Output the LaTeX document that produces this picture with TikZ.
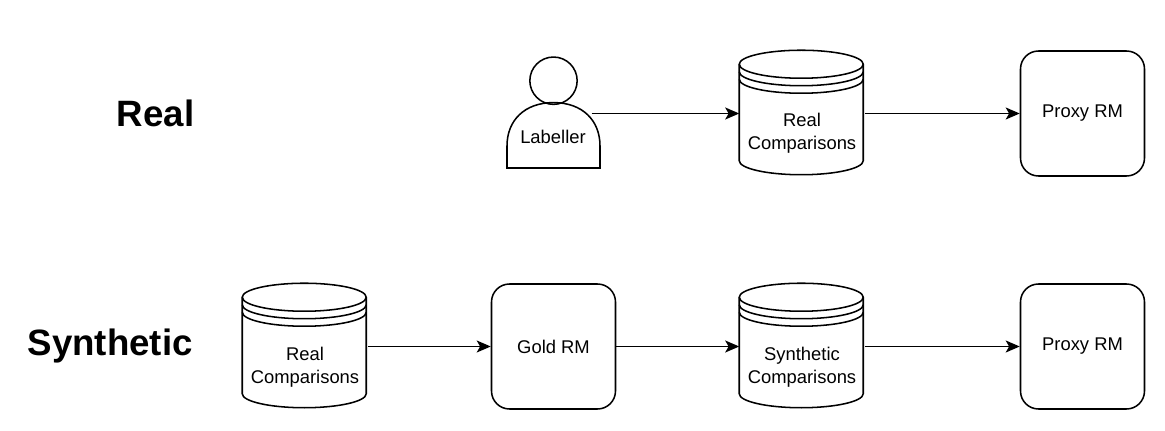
\documentclass[tikz,border=0pt]{standalone}
\usepackage{fontspec}
\setmainfont{Liberation Sans}
\usetikzlibrary{arrows.meta}

\tikzset{every picture/.style={line width=1.15pt}}
\tikzset{
	rmbox/.style={draw, rectangle, rounded corners=13.5pt, minimum width=93pt, minimum height=93.75pt, inner sep=0pt, font=\fontsize{13.8}{17}\selectfont},
	storebox/.style={rectangle, minimum width=93pt, minimum height=93.75pt, inner sep=0pt},
	storetext/.style={align=center, inner sep=0pt, font=\fontsize{13.8}{17}\selectfont},
	rowtitle/.style={anchor=east, inner sep=0pt, font=\fontsize{27.5}{30}\selectfont\bfseries},
	flow/.style={-{Stealth[length=10.5pt,width=9pt,inset=2.5pt]}}
}

% cylinder with its two rims, drawn round a named empty node
\newcommand{\drawstore}[1]{
	\draw (#1.north west) ++(0,14) arc [start angle=180, end angle=360, x radius=62, y radius=14] -- ++(0,96.5) arc [start angle=0, end angle=180, x radius=62, y radius=14] -- cycle;
	\draw (#1.north west) ++(0,14) arc [start angle=180, end angle=0, x radius=62, y radius=14];
	\draw (#1.north west) ++(0,21.5) arc [start angle=180, end angle=0, x radius=62, y radius=14];
	\draw (#1.north west) ++(0,29) arc [start angle=180, end angle=0, x radius=62, y radius=14];
}

\begin{document}
\begin{tikzpicture}[x=0.75pt,y=0.75pt,yscale=-1]
	\useasboundingbox (0,0) rectangle (1165,431);

	% titles
	\node [rowtitle] (realtitle) at (195,113) {Real};
	\node [rowtitle] (synthtitle) at (193.5,346) {Synthetic};

	% top row
	\node [draw, circle, minimum size=35.5pt, inner sep=0pt] (labellerhead) at (553.5,80.7) {};
	\node [rectangle, minimum width=70pt, minimum height=49pt, inner sep=0pt] (labeller) at (553.5,135.3) {};
	\draw (507,168) -- (507,146) .. controls (507,120) and (525,102.6) .. (553.5,102.6) .. controls (582,102.6) and (600,120) .. (600,146) -- (600,168) -- cycle;
	\node [storetext] (labellertext) at (553,136.5) {Labeller};
	\coordinate (labellerout) at (591.5,113.5);

	\node [storebox] (realstore) at (802,113.5) {};
	\drawstore{realstore}
	\node [storetext] (realstoretext) at (802,133.5) {Real\\Comparisons};
	\node [rmbox] (proxytop) at (1082.5,113.5) {Proxy RM};

	\draw [flow] (labellerout) -- (realstore.west);
	\draw [flow] (realstore.east) -- (proxytop.west);

	% bottom row
	\node [storebox] (inputstore) at (305,346.5) {};
	\drawstore{inputstore}
	\node [storetext] (inputstoretext) at (305,367) {Real\\Comparisons};
	\node [rmbox] (goldrm) at (553.5,346.5) {Gold RM};
	\node [storebox] (synthstore) at (802,346.5) {};
	\drawstore{synthstore}
	\node [storetext] (synthstoretext) at (802,367) {Synthetic\\Comparisons};
	\node [rmbox] (proxybottom) at (1082.5,346.5) {Proxy RM};

	\draw [flow] (inputstore.east) -- (goldrm.west);
	\draw [flow] (goldrm.east) -- (synthstore.west);
	\draw [flow] (synthstore.east) -- (proxybottom.west);
\end{tikzpicture}
\end{document}
